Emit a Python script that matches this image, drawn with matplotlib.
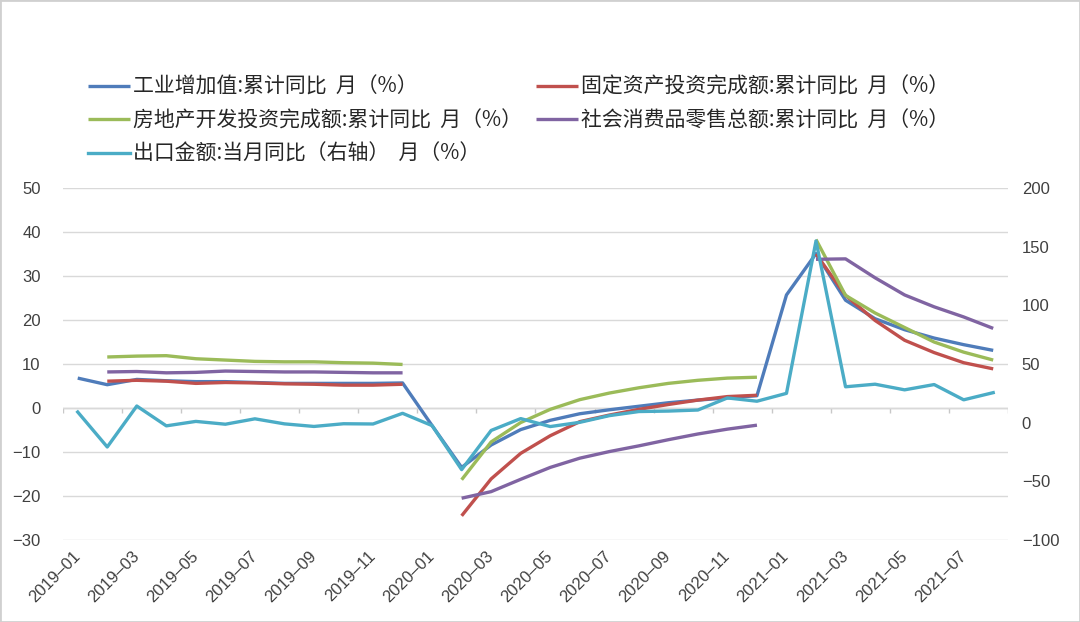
import numpy as np
import pandas as pd
import matplotlib.pyplot as plt
from matplotlib.patches import Rectangle

plt.rcParams['font.family'] = ['Liberation Sans', 'Noto Sans CJK SC', 'DejaVu Sans']

nan = np.nan
months = list(pd.period_range('2019-01', '2021-08', freq='M').strftime('%Y–%m'))

# 左轴：累计同比 (%)
industry = [6.8, 5.3, 6.5, 6.2, 6.0, 6.0, 5.8, 5.6, 5.6, 5.6, 5.6, 5.7,
            -4.0, -13.5, -8.4, -4.9, -2.8, -1.3, -0.4, 0.4, 1.2, 1.8, 2.3, 2.8,
            25.7, 35.1, 24.5, 20.3, 17.8, 15.9, 14.4, 13.1]
fixed_inv = [nan, 6.1, 6.3, 6.1, 5.6, 5.8, 5.7, 5.5, 5.4, 5.2, 5.2, 5.4,
             nan, -24.5, -16.1, -10.3, -6.3, -3.1, -1.6, -0.3, 0.8, 1.8, 2.6, 2.9,
             nan, 35.0, 25.6, 19.9, 15.4, 12.6, 10.3, 8.9]
real_estate = [nan, 11.6, 11.8, 11.9, 11.2, 10.9, 10.6, 10.5, 10.5, 10.3, 10.2, 9.9,
               nan, -16.3, -7.7, -3.3, -0.3, 1.9, 3.4, 4.6, 5.6, 6.3, 6.8, 7.0,
               nan, 38.3, 25.6, 21.6, 18.3, 15.0, 12.7, 10.9]
retail = [nan, 8.2, 8.3, 8.0, 8.1, 8.4, 8.3, 8.2, 8.2, 8.1, 8.0, 8.0,
          nan, -20.5, -19.0, -16.2, -13.5, -11.4, -9.9, -8.6, -7.2, -5.9, -4.8, -3.9,
          nan, 33.8, 33.9, 29.6, 25.7, 23.0, 20.7, 18.1]
# 右轴：出口金额当月同比 (%)
exports = [9.1, -20.7, 14.2, -2.7, 1.1, -1.3, 3.3, -1.0, -3.2, -0.9, -1.1, 8.0,
           -2.5, -40.0, -6.6, 3.5, -3.3, 0.3, 6.0, 9.5, 9.9, 10.8, 21.1, 18.3,
           25.0, 154.9, 30.6, 32.8, 28.0, 32.5, 19.5, 25.6]

labels = ['工业增加值:累计同比  月（%）', '固定资产投资完成额:累计同比  月（%）',
          '房地产开发投资完成额:累计同比  月（%）', '社会消费品零售总额:累计同比  月（%）',
          '出口金额:当月同比（右轴）  月（%）']
colors = ['#4F7CBA', '#C0504D', '#9BBB59', '#8064A2', '#4BACC6']

x = np.arange(len(months))
fig = plt.figure(figsize=(10.8, 6.22), dpi=100)
ax = fig.add_axes([0.0583, 0.1318, 0.875, 0.5659])

lw = 2.4
h = []
for s, c, lab in zip([industry, fixed_inv, real_estate, retail], colors[:4], labels[:4]):
    h += ax.plot(x, s, color=c, lw=lw, label=lab, solid_capstyle='butt')

ax.set_xlim(-0.5, 31.5)
ax.set_ylim(-30, 50)
ax.set_yticks(range(-30, 51, 10))
ax.grid(axis='y', color='#d9d9d9', lw=1)
ax.set_axisbelow(True)
for sp in ax.spines.values():
    sp.set_visible(False)
ax.axhline(0, color='#c8c8c8', lw=1, zorder=0.5)
ax.vlines(np.arange(-0.5, 32, 2), -1.15, 0, color='#c8c8c8', lw=1, zorder=0.5)

ax.set_xticks(x[::2])
ax.set_xticklabels(months[::2], rotation=45, ha='right', va='center',
                   rotation_mode='anchor')
ax.tick_params(axis='x', length=0, pad=10, labelsize=12, labelcolor='#404040')
ax.tick_params(axis='y', length=0, pad=16, labelsize=12, labelcolor='#404040')

ax2 = ax.twinx()
h += ax2.plot(x, exports, color=colors[4], lw=lw, label=labels[4])
ax2.set_ylim(-100, 200)
ax2.set_yticks(range(-100, 201, 50))
for sp in ax2.spines.values():
    sp.set_visible(False)
ax2.tick_params(axis='y', length=0, pad=10, labelsize=12, labelcolor='#404040')

order = [h[0], h[2], h[4], h[1], h[3]]
fig.legend(order, [o.get_label() for o in order], loc='upper left',
           bbox_to_anchor=(0.0815, 0.878), ncol=2, frameon=False,
           prop={'family': ['Noto Sans CJK SC', 'DejaVu Sans'], 'size': 15},
           handlelength=2.0, handletextpad=0.15, columnspacing=0.7,
           labelspacing=0.55, borderaxespad=0, borderpad=0, labelcolor='#262626')

fig.add_artist(Rectangle((0, 0), 1, 1, transform=fig.transFigure, fill=False,
                         edgecolor='#d0d0d0', lw=2))

fig.savefig('out.png', dpi=100)
